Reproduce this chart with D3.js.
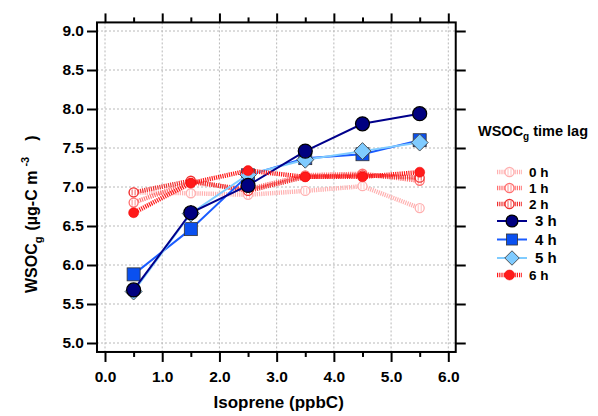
<!DOCTYPE html>
<html><head><meta charset="utf-8">
<script src="https://cdn.jsdelivr.net/npm/d3@7"></script>
<style>body{margin:0;background:#fff}svg{display:block}text{font-family:"Liberation Sans",Arial,sans-serif;font-weight:bold}</style>
</head><body><svg id="c" width="598" height="416"></svg>
<script>
const isoprene = [0.5, 1.5, 2.5, 3.5, 4.5, 5.5];
const lag0h = [6.93, 6.92, 6.90, 6.95, 7.01, 6.73];
const lag1h = [6.80, 7.06, 6.97, 7.15, 7.17, 7.08];
const lag2h = [6.93, 7.08, 6.95, 7.13, 7.15, 7.12];
const lag3h = [5.68, 6.67, 7.02, 7.46, 7.81, 7.94];
const lag4h = [5.88, 6.46, 7.15, 7.37, 7.42, 7.60];
const lag5h = [5.66, 6.66, 7.16, 7.35, 7.46, 7.57];
const lag6h = [6.67, 7.05, 7.21, 7.13, 7.13, 7.19];
const xTicks = [0, 1, 2, 3, 4, 5, 6];
const yTicks = [5.0, 5.5, 6.0, 6.5, 7.0, 7.5, 8.0, 8.5, 9.0];
const seriesNames = ["0 h", "1 h", "2 h", "3 h", "4 h", "5 h", "6 h"];

const series = [
  {name: seriesNames[0], vals: lag0h, color: "#ffb0b0", marker: "open", dash: true},
  {name: seriesNames[1], vals: lag1h, color: "#ff7070", marker: "open", dash: true},
  {name: seriesNames[2], vals: lag2h, color: "#f03030", marker: "open", dash: true},
  {name: seriesNames[3], vals: lag3h, color: "#00008b", marker: "circle", fill: "#000080"},
  {name: seriesNames[4], vals: lag4h, color: "#1a5cff", marker: "square", fill: "#0a50f0"},
  {name: seriesNames[5], vals: lag5h, color: "#80ccff", marker: "diamond", fill: "#7fcbff"},
  {name: seriesNames[6], vals: lag6h, color: "#ff1a1a", marker: "filled", dash: true}
];
const drawOrder = [0, 1, 2, 4, 5, 3, 6];

const svg = d3.select("#c");
const x = d3.scaleLinear().domain([0, 6]).range([105, 448.3]);
const y = d3.scaleLinear().domain([5, 9]).range([343, 31]);
const xL = x(-0.14), xR = x(6.13), yT = y(9.11), yB = y(4.885);

// grid
const g = svg.append("g");
g.selectAll(".gx").data(xTicks).enter().append("line")
  .attr("x1", d => x(d)).attr("x2", d => x(d)).attr("y1", yT).attr("y2", yB)
  .attr("stroke", "#b8b8b8").attr("stroke-width", 1).attr("stroke-dasharray", "2,2");
g.selectAll(".gy").data(yTicks).enter().append("line")
  .attr("y1", d => y(d)).attr("y2", d => y(d)).attr("x1", xL).attr("x2", xR)
  .attr("stroke", "#b8b8b8").attr("stroke-width", 1).attr("stroke-dasharray", "2,2");

// axes
const minorX = d3.range(0.5, 6.01, 1);
const axB = svg.append("g").attr("transform", `translate(0,${yB})`)
  .call(d3.axisBottom(x).tickValues(xTicks).tickSize(10).tickPadding(9).tickFormat(d3.format(".1f")));
const axT = svg.append("g").attr("transform", `translate(0,${yT})`)
  .call(d3.axisTop(x).tickValues(xTicks).tickSize(9).tickFormat(""));
const axBm = svg.append("g").attr("transform", `translate(0,${yB})`)
  .call(d3.axisBottom(x).tickValues(minorX).tickSize(5).tickFormat(""));
const axTm = svg.append("g").attr("transform", `translate(0,${yT})`)
  .call(d3.axisTop(x).tickValues(minorX).tickSize(5).tickFormat(""));
const axL = svg.append("g").attr("transform", `translate(${xL},0)`)
  .call(d3.axisLeft(y).tickValues(yTicks).tickSize(10).tickPadding(3).tickFormat(d3.format(".1f")));
const axR = svg.append("g").attr("transform", `translate(${xR},0)`)
  .call(d3.axisRight(y).tickValues(yTicks).tickSize(10).tickFormat(""));
[axB, axT, axBm, axTm, axL, axR].forEach(a => {
  a.select(".domain").remove();
  a.selectAll(".tick line").attr("stroke", "#000").attr("stroke-width", 2);
  a.selectAll("text").attr("font-size", 15.5).attr("fill", "#000");
});
svg.append("rect").attr("x", xL).attr("y", yT).attr("width", xR - xL).attr("height", yB - yT)
  .attr("fill", "none").attr("stroke", "#000").attr("stroke-width", 2);

// axis titles
svg.append("text").attr("x", (x(0) + x(6)) / 2 + 2).attr("y", 408).attr("text-anchor", "middle")
  .attr("font-size", 17).text("Isoprene (ppbC)");
const yl = svg.append("text").attr("transform", `translate(37,293) rotate(-90)`)
  .attr("text-anchor", "start").attr("font-size", 16);
yl.append("tspan").text("WSOC");
yl.append("tspan").attr("font-size", 11).attr("dy", 5).text("g");
yl.append("tspan").attr("dy", -5).attr("dx", 6).text("(µg-C m");
yl.append("tspan").attr("font-size", 11).attr("dy", -8).attr("dx", 4).text("-3");
yl.append("tspan").attr("dy", 8).attr("dx", 16).text(")");

function drawMarker(sel, s, cx, cy, scale) {
  const k = scale || 1;
  if (s.marker === "open") {
    sel.append("circle").attr("cx", cx).attr("cy", cy).attr("r", 4.5 * k)
      .attr("fill", "#fff").attr("stroke", s.color).attr("stroke-width", 1.3);
    sel.append("line").attr("x1", cx - 1.5).attr("x2", cx - 1.5).attr("y1", cy - 3).attr("y2", cy + 3).attr("stroke", s.color).attr("stroke-width", 0.8);
    sel.append("line").attr("x1", cx + 1.5).attr("x2", cx + 1.5).attr("y1", cy - 3).attr("y2", cy + 3).attr("stroke", s.color).attr("stroke-width", 0.8);
  } else if (s.marker === "filled") {
    sel.append("circle").attr("cx", cx).attr("cy", cy).attr("r", 5 * k).attr("fill", s.color).attr("stroke", "#e00").attr("stroke-width", 0.5);
  } else if (s.marker === "circle") {
    sel.append("circle").attr("cx", cx).attr("cy", cy).attr("r", 7 * k).attr("fill", s.fill).attr("stroke", "#000").attr("stroke-width", 1.2);
  } else if (s.marker === "square") {
    const h = 6.5 * k;
    sel.append("rect").attr("x", cx - h).attr("y", cy - h).attr("width", 2 * h).attr("height", 2 * h)
      .attr("fill", s.fill).attr("stroke", "#333").attr("stroke-width", 0.8);
  } else if (s.marker === "diamond") {
    const h = 8.5 * k;
    sel.append("path").attr("d", `M${cx},${cy - h}L${cx + h},${cy}L${cx},${cy + h}L${cx - h},${cy}Z`)
      .attr("fill", s.fill).attr("stroke", "#444").attr("stroke-width", 0.9);
  }
}

const line = d3.line().x((d, i) => x(isoprene[i])).y(d => y(d));
const plot = svg.append("g");
drawOrder.forEach(idx => {
  const s = series[idx];
  const gg = plot.append("g");
  gg.append("path").attr("d", line(s.vals)).attr("fill", "none").attr("stroke", s.color)
    .attr("stroke-width", s.dash ? 4.5 : 2).attr("stroke-dasharray", s.dash ? "1.2,1" : null);
  s.vals.forEach((v, i) => drawMarker(gg, s, x(isoprene[i]), y(v)));
});

// legend
const leg = svg.append("g");
const lt = leg.append("text").attr("x", 478).attr("y", 136).attr("font-size", 14.5);
lt.append("tspan").text("WSOC");
lt.append("tspan").attr("font-size", 10).attr("dy", 4).text("g");
lt.append("tspan").attr("dy", -4).text(" time lag");
const legY = [172, 188, 204, 221, 239.5, 258, 275];
series.forEach((s, i) => {
  const yy = legY[i];
  const big = !s.dash;
  const x0 = 497, x1 = big ? 527 : 522;
  leg.append("line").attr("x1", x0).attr("x2", x1).attr("y1", yy).attr("y2", yy)
    .attr("stroke", s.color).attr("stroke-width", s.dash ? 4.5 : 2).attr("stroke-dasharray", s.dash ? "1.2,1" : null);
  drawMarker(leg, s, (x0 + x1) / 2, yy, big ? 0.85 : 1);
  leg.append("text").attr("x", big ? 535 : 529).attr("y", yy + 5).attr("font-size", big ? 15 : 13.5).text(s.name);
});
</script></body></html>
